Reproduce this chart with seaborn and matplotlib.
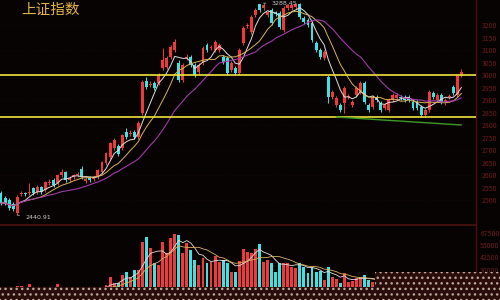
import numpy as np
import pandas as pd
import matplotlib
matplotlib.use("Agg")
import matplotlib.pyplot as plt
import seaborn as sns
from matplotlib.patches import Rectangle

# ---------------- data ----------------
title = "上证指数"
opens = [2529, 2509, 2501, 2485, 2449, 2525, 2529, 2529, 2549, 2533,
         2553, 2541, 2569, 2581, 2569, 2601, 2613, 2581, 2593, 2601,
         2625, 2577, 2593, 2585, 2593, 2613, 2649, 2673, 2709, 2717,
         2709, 2773, 2765, 2773, 2753, 2849, 2977, 2961, 2969, 2969,
         3029, 3033, 3073, 3101, 3049, 2981, 3069, 3073, 3041, 3013,
         3049, 3121, 3109, 3101, 3101, 3073, 3069, 3021, 3029, 3009,
         3129, 3197, 3173, 3241, 3285, 3269, 3241, 3261, 3249, 3249,
         3181, 3269, 3269, 3273, 3285, 3229, 3221, 3209, 3129, 3101,
         3069, 2993, 2913, 2881, 2881, 2889, 2913, 2881, 2921, 2933,
         2969, 2881, 2873, 2913, 2889, 2869, 2861, 2901, 2909, 2913,
         2913, 2913, 2893, 2893, 2873, 2841, 2861, 2929, 2901, 2921,
         2889, 2913, 2953, 2921, 3001]
closes = [2489, 2489, 2469, 2465, 2513, 2529, 2525, 2533, 2529, 2553,
          2533, 2573, 2573, 2561, 2601, 2613, 2581, 2589, 2601, 2605,
          2593, 2585, 2581, 2589, 2621, 2653, 2689, 2729, 2741, 2685,
          2761, 2753, 2769, 2753, 2809, 2973, 2953, 2965, 2949, 3001,
          3061, 3069, 3113, 3133, 2981, 3041, 3073, 3041, 3001, 3041,
          3109, 3101, 3113, 3133, 3121, 3053, 3009, 3049, 3009, 3101,
          3189, 3201, 3233, 3261, 3261, 3281, 3253, 3209, 3245, 3193,
          3269, 3281, 3281, 3285, 3233, 3213, 3201, 3141, 3101, 3073,
          3093, 2913, 2933, 2909, 2861, 2949, 2917, 2893, 2949, 2969,
          2893, 2861, 2913, 2901, 2861, 2881, 2901, 2921, 2921, 2909,
          2901, 2901, 2869, 2869, 2841, 2861, 2933, 2913, 2921, 2893,
          2901, 2917, 2929, 2997, 3013]
highs = [2537, 2517, 2509, 2493, 2521, 2537, 2535, 2569, 2555, 2561,
         2559, 2579, 2585, 2589, 2607, 2625, 2619, 2597, 2607, 2613,
         2637, 2593, 2599, 2597, 2627, 2659, 2695, 2735, 2749, 2725,
         2767, 2789, 2781, 2781, 2817, 2981, 2993, 2977, 2977, 3009,
         3109, 3077, 3121, 3145, 3061, 3049, 3085, 3081, 3049, 3049,
         3117, 3129, 3121, 3141, 3129, 3081, 3077, 3057, 3037, 3109,
         3197, 3209, 3241, 3269, 3287, 3288.45, 3261, 3269, 3257, 3257,
         3277, 3287, 3287, 3288, 3288, 3237, 3229, 3217, 3137, 3109,
         3101, 3001, 2941, 2917, 2889, 2957, 2925, 2901, 2957, 2977,
         2977, 2889, 2921, 2921, 2897, 2889, 2909, 2929, 2929, 2921,
         2921, 2921, 2901, 2901, 2881, 2869, 2941, 2937, 2929, 2929,
         2909, 2925, 2961, 3005, 3025]
lows = [2481, 2481, 2461, 2457, 2440.91, 2517, 2519, 2523, 2523, 2527,
        2527, 2535, 2563, 2555, 2563, 2595, 2575, 2575, 2587, 2595,
        2587, 2569, 2575, 2579, 2587, 2607, 2643, 2667, 2701, 2679,
        2701, 2745, 2757, 2745, 2747, 2841, 2945, 2953, 2941, 2961,
        3021, 3025, 3065, 3093, 2973, 2973, 3061, 3033, 2993, 3005,
        3041, 3093, 3101, 3093, 3093, 3045, 3001, 3013, 3001, 3001,
        3121, 3189, 3165, 3233, 3253, 3261, 3233, 3201, 3237, 3185,
        3173, 3261, 3261, 3265, 3225, 3205, 3193, 3133, 3093, 3065,
        3061, 2889, 2905, 2873, 2853, 2849, 2905, 2873, 2913, 2925,
        2885, 2853, 2865, 2893, 2853, 2861, 2853, 2893, 2901, 2901,
        2893, 2893, 2861, 2861, 2833, 2833, 2853, 2905, 2893, 2885,
        2881, 2905, 2921, 2913, 2993]
volumes_k = [10, 9, 11, 10, 14, 14, 9, 16, 10, 11, 9, 12, 10, 12, 16, 13, 11, 10, 9, 10,
             12, 11, 10, 11, 13, 12,
             15, 23, 17, 17, 25, 28, 23, 30, 30, 58, 63, 52, 37, 35, 58, 47, 62, 66, 65, 47,
             57, 50, 40, 35, 42, 37, 38, 44, 38, 40, 37, 28, 28, 39, 51, 48, 47, 51, 56, 38,
             40, 37, 28, 37, 37, 37, 33, 32, 37, 33, 27, 33, 28, 29, 20, 33, 23, 21, 17, 27,
             18, 19, 22, 23, 25, 20,
             18, 16, 15, 17, 14, 15, 16, 14, 13, 15, 14, 16, 18, 15, 22, 16, 14, 15, 13, 12,
             16, 24, 20]
level_lines = [3001, 2833]
trend_idx = [83, 114]
trend_val = [2833, 2801]
price_ticks = [2500, 2550, 2600, 2650, 2700, 2750, 2800, 2850, 2900, 2950,
               3000, 3050, 3100, 3150, 3200]
vol_ticks = [30000, 42500, 55000, 67500]
low_label = "2440.91"
high_label = "3288.45"

# ---------------- style ----------------
BG = "#070303"
RED = "#f03a3a"
CYAN = "#3ee2e2"
AXC = "#4a1010"
LBL = "#6e1a1a"

sns.set_theme(style="dark")
plt.rcParams["font.family"] = ["Noto Sans CJK SC", "DejaVu Sans"]

n = len(closes)
df = pd.DataFrame({"idx": np.arange(n), "open": opens, "close": closes,
                   "high": highs, "low": lows,
                   "vol": np.array(volumes_k) * 1000})
df["dir"] = np.where(df["close"] >= df["open"], "up", "down")
df["ma5"] = df["close"].rolling(5, min_periods=1).mean()
df["ma10"] = df["close"].rolling(10, min_periods=1).mean()
df["ma20"] = df["close"].rolling(20, min_periods=1).mean()
df["vma5"] = df["vol"].rolling(5, min_periods=1).mean()
df["vma10"] = df["vol"].rolling(10, min_periods=1).mean()

fig = plt.figure(figsize=(5, 3), dpi=100, facecolor=BG)
ax = fig.add_axes([0, 75 / 300, 476 / 500, 225 / 300])
axv = fig.add_axes([0, 0, 476 / 500, 74 / 300])
for a in (ax, axv):
    a.set_facecolor(BG)
    for s in ("top", "left"):
        a.spines[s].set_visible(False)
    a.spines["right"].set_color(AXC)
    a.spines["right"].set_linewidth(1.0)
    a.spines["bottom"].set_color(AXC)
    a.grid(False)

# candles
colors = np.where(df["dir"] == "up", RED, CYAN)
body_low = np.minimum(df["open"], df["close"])
body_h = np.maximum(np.abs(df["close"] - df["open"]), 3)
ax.vlines(df["idx"], df["low"], df["high"], colors=colors, lw=0.7, zorder=3)
ax.bar(df["idx"], body_h, bottom=body_low, color=colors, width=0.72,
       linewidth=0, zorder=3)

# moving averages
sns.lineplot(data=df, x="idx", y="ma5", color="#e6dcdc", lw=0.7, ax=ax, zorder=4)
sns.lineplot(data=df, x="idx", y="ma10", color="#d8b45a", lw=0.7, ax=ax, zorder=4)
sns.lineplot(data=df, x="idx", y="ma20", color="#a03aa8", lw=0.8, ax=ax, zorder=4)

# horizontal levels & trend line
for lv in level_lines:
    ax.axhline(lv, color="#eee23c", lw=1.2, zorder=5)
ax.plot(trend_idx, trend_val, color="#3f9a22", lw=1.0, zorder=5)

# faint grid
for p in price_ticks:
    if p % 100 == 0:
        ax.axhline(p, color="#1f0808", lw=0.5, ls=(0, (1, 2)), zorder=1)

# annotations
ax.annotate(low_label, xy=(4, 2440.91), xytext=(6, -2), textcoords="offset points",
            fontsize=4.5, color="#c8c8c8", va="center", ha="left",
            family="DejaVu Sans",
            arrowprops=dict(arrowstyle="-", color="#c8c8c8", lw=0.5))
ax.annotate(high_label, xy=(65, 3288.45), xytext=(6, 0), textcoords="offset points",
            fontsize=4.5, color="#c8c8c8", va="center", ha="left",
            family="DejaVu Sans",
            arrowprops=dict(arrowstyle="-", color="#c8c8c8", lw=0.5))

ax.text(0.045, 0.955, title, transform=ax.transAxes, fontsize=10.5,
        color="#e2b444", ha="left", va="center", family=["Noto Sans CJK SC"])

ax.set_xlim(-0.25, 117.6)
ax.set_ylim(2401, 3301)
ax.set_yticks(price_ticks)
ax.set_yticklabels([str(t) for t in price_ticks])
ax.set_xticks([])
ax.yaxis.tick_right()
ax.tick_params(axis="y", colors=LBL, labelsize=5, length=0, pad=4)
ax.set_xlabel("")
ax.set_ylabel("")

# volume
sns.barplot(data=df, x="idx", y="vol", hue="dir", palette={"up": RED, "down": CYAN},
            dodge=False, legend=False, saturation=1, width=0.72, linewidth=0, ax=axv)
sns.lineplot(x=df["idx"], y=df["vma5"], color="#e6dcdc", lw=0.6, ax=axv, zorder=4)
sns.lineplot(x=df["idx"], y=df["vma10"], color="#d8b45a", lw=0.6, ax=axv, zorder=4)
axv.set_xlim(-0.25, 117.6)
axv.set_ylim(0, 74000)
axv.set_yticks(vol_ticks)
axv.set_yticklabels([str(t) for t in vol_ticks])
axv.set_xticks([])
axv.yaxis.tick_right()
axv.tick_params(axis="y", colors=LBL, labelsize=5, length=0, pad=3)
axv.spines["bottom"].set_visible(False)
axv.set_xlabel("")
axv.set_ylabel("")

# dotted overlay band at the bottom
fig.add_artist(Rectangle((0, 0), 1, 13 / 300, transform=fig.transFigure,
                         facecolor="#2a0c0a", edgecolor="#b8a898", hatch="...",
                         linewidth=0, zorder=10))
fig.add_artist(Rectangle((375 / 500, 0), 125 / 500, 28 / 300, transform=fig.transFigure,
                         facecolor="#2a0c0a", edgecolor="#b8a898", hatch="...",
                         linewidth=0, zorder=10))

fig.savefig("out.png", dpi=100, facecolor=BG)
